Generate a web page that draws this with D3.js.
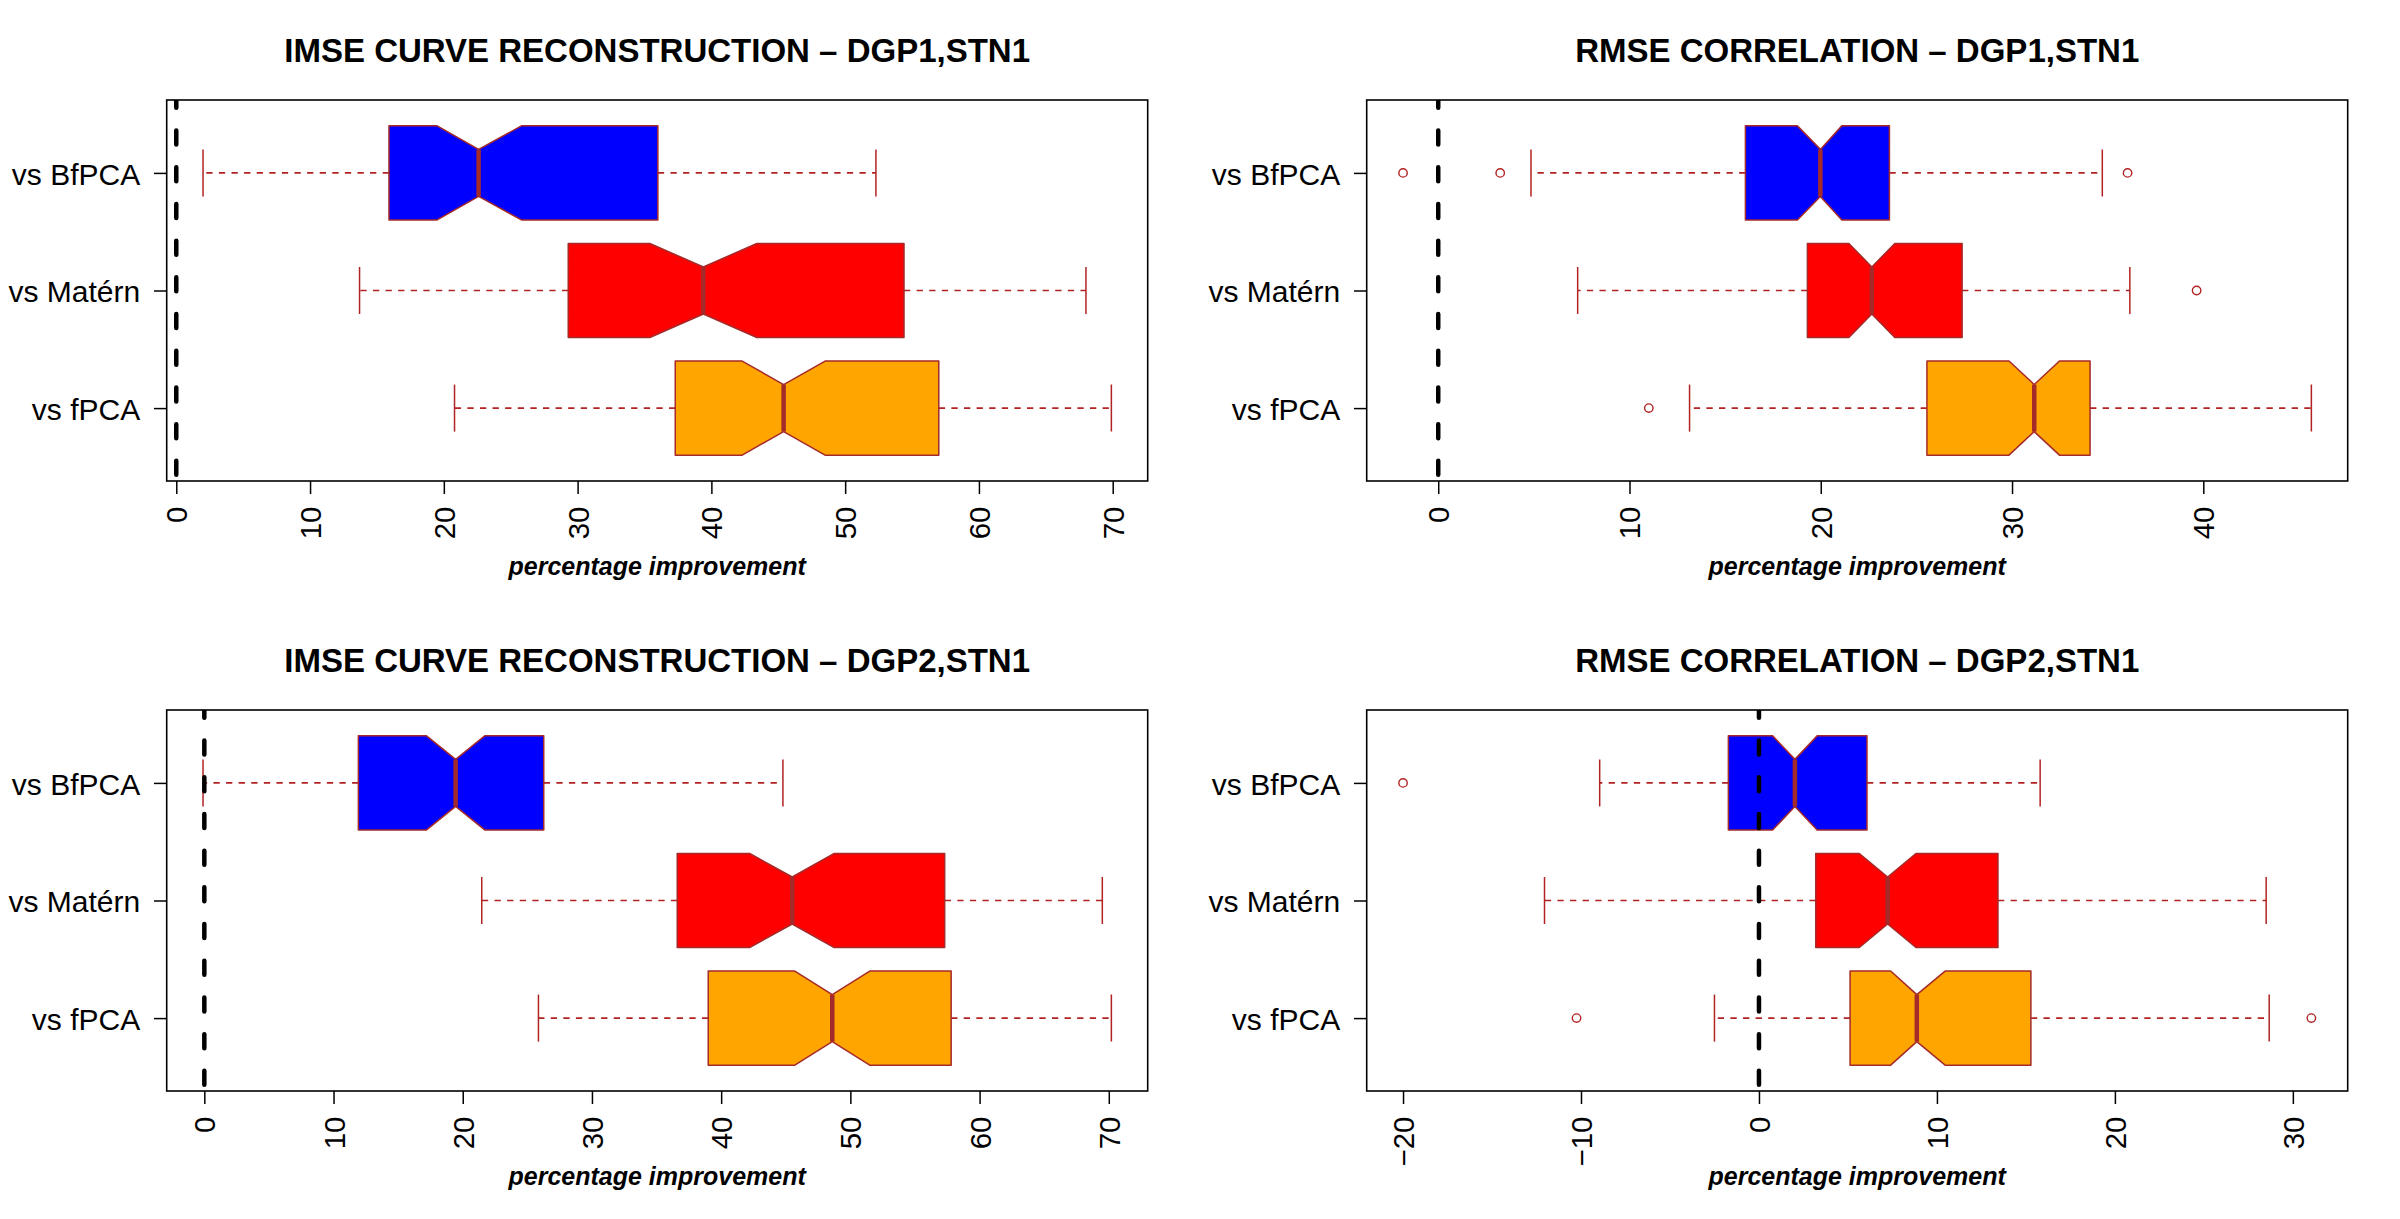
<!DOCTYPE html>
<html><head><meta charset="utf-8">
<script src="https://cdn.jsdelivr.net/npm/d3@7"></script>
<style>
body{margin:0;background:#fff}
svg{display:block}
text{font-family:"Liberation Sans",Arial,Helvetica,sans-serif;fill:#000}
</style>
</head><body>
<svg id="chart" width="2400" height="1219"></svg>
<script>
// ---------------- data ----------------
const groups = ["vs BfPCA", "vs Matérn", "vs fPCA"];
const fills = ["#0000FF", "#FF0000", "#FFA500"];
const titles = [
  "IMSE CURVE RECONSTRUCTION – DGP1,STN1",
  "RMSE CORRELATION – DGP1,STN1",
  "IMSE CURVE RECONSTRUCTION – DGP2,STN1",
  "RMSE CORRELATION – DGP2,STN1"
];
const xLabel = "percentage improvement";

// stats per group: [lower whisker, Q1, notch low, median, notch high, Q3, upper whisker]
const imseDgp1 = [
  [2.0, 15.9, 19.5, 22.6, 25.8, 36.0, 52.3],
  [13.7, 29.3, 35.4, 39.4, 43.4, 54.4, 68.0],
  [20.8, 37.3, 42.3, 45.4, 48.5, 57.0, 69.9]
];
const imseDgp1Out = [[], [], []];

const rmseDgp1 = [
  [4.85, 16.06, 18.78, 19.98, 21.1, 23.59, 34.72],
  [7.29, 19.3, 21.47, 22.67, 23.87, 27.39, 36.16],
  [13.14, 25.55, 29.84, 31.16, 32.48, 34.08, 45.65]
];
const rmseDgp1Out = [[-1.84, 3.24, 36.04], [39.65], [11.01]];

const imseDgp2 = [
  [-0.1, 11.92, 17.2, 19.45, 21.7, 26.27, 44.78],
  [21.47, 36.6, 42.2, 45.5, 48.75, 57.3, 69.5],
  [25.86, 39.0, 45.7, 48.6, 51.5, 57.8, 70.2]
];
const imseDgp2Out = [[], [], []];

const rmseDgp2 = [
  [-8.95, -1.72, 0.77, 2.02, 3.27, 6.07, 15.8],
  [-12.05, 3.19, 5.64, 7.23, 8.82, 13.43, 28.5],
  [-2.5, 5.12, 7.4, 8.87, 10.46, 15.28, 28.67]
];
const rmseDgp2Out = [[-20.0], [], [-10.25, 31.04]];

const ticksImse1 = [0, 10, 20, 30, 40, 50, 60, 70];
const ticksRmse1 = [0, 10, 20, 30, 40];
const ticksImse2 = [0, 10, 20, 30, 40, 50, 60, 70];
const ticksRmse2 = [-20, -10, 0, 10, 20, 30];

const panels = [
  {title: titles[0], stats: imseDgp1, out: imseDgp1Out, ticks: ticksImse1, col: 0, row: 0},
  {title: titles[1], stats: rmseDgp1, out: rmseDgp1Out, ticks: ticksRmse1, col: 1, row: 0},
  {title: titles[2], stats: imseDgp2, out: imseDgp2Out, ticks: ticksImse2, col: 0, row: 1},
  {title: titles[3], stats: rmseDgp2, out: rmseDgp2Out, ticks: ticksRmse2, col: 1, row: 1}
];

// ---------------- drawing ----------------
const svg = d3.select("#chart");
const BORDER = "#A52A2A";
const WHISK = "#B22222";
const pL = 166.7, pR = 1147.7, pT = 100, pB = 481;
const boxHalf = 0.4;

panels.forEach((p, pi) => {
  const g = svg.append("g").attr("transform", `translate(${p.col * 1200},${p.row * 610})`);

  const allVals = p.stats.flat().concat(p.out.flat());
  const lo = d3.min(allVals), hi = d3.max(allVals), r = hi - lo;
  const x = d3.scaleLinear().domain([lo - 0.04 * r, hi + 0.04 * r]).range([pL, pR]);
  const y = d3.scaleLinear().domain([0.38, 3.62]).range([pT, pB]);
  const pos = i => i + 1;

  const clipId = "clip" + pi;
  g.append("clipPath").attr("id", clipId).append("rect")
    .attr("x", pL).attr("y", pT).attr("width", pR - pL).attr("height", pB - pT);

  // title
  g.append("text").attr("x", (pL + pR) / 2).attr("y", 61.7)
    .attr("text-anchor", "middle").style("font-weight", "bold").style("font-size", "33px")
    .text(p.title);

  // x label
  g.append("text").attr("x", (pL + pR) / 2).attr("y", 575)
    .attr("text-anchor", "middle").style("font-weight", "bold").style("font-style", "italic")
    .style("font-size", "25px").text(xLabel);

  const plot = g.append("g").attr("clip-path", `url(#${clipId})`);

  p.stats.forEach((s, i) => {
    const [wl, q1, nl, med, nu, q3, wh] = s;
    const c = pos(i);
    // whiskers
    [[q1, wl], [q3, wh]].forEach(([a, b]) => {
      plot.append("line").attr("x1", x(a)).attr("x2", x(b)).attr("y1", y(c)).attr("y2", y(c))
        .attr("stroke", WHISK).attr("stroke-width", 1.6).attr("stroke-dasharray", "6.3,6.3");
      plot.append("line").attr("x1", x(b)).attr("x2", x(b))
        .attr("y1", y(c - boxHalf / 2)).attr("y2", y(c + boxHalf / 2))
        .attr("stroke", WHISK).attr("stroke-width", 1.5);
    });
    // notched box
    const pts = [
      [q1, c - boxHalf], [nl, c - boxHalf], [med, c - boxHalf / 2], [nu, c - boxHalf], [q3, c - boxHalf],
      [q3, c + boxHalf], [nu, c + boxHalf], [med, c + boxHalf / 2], [nl, c + boxHalf], [q1, c + boxHalf]
    ];
    plot.append("path")
      .attr("d", d3.line().x(d => x(d[0])).y(d => y(d[1]))(pts) + "Z")
      .attr("fill", fills[i]).attr("stroke", BORDER).attr("stroke-width", 1.5)
      .attr("stroke-linejoin", "round");
    // median
    plot.append("line").attr("x1", x(med)).attr("x2", x(med))
      .attr("y1", y(c - boxHalf / 2)).attr("y2", y(c + boxHalf / 2))
      .attr("stroke", BORDER).attr("stroke-width", 4.5);
    // outliers
    p.out[i].forEach(v => {
      plot.append("circle").attr("cx", x(v)).attr("cy", y(c)).attr("r", 4.2)
        .attr("fill", "none").attr("stroke", WHISK).attr("stroke-width", 1.4);
    });
  });

  // zero reference line
  plot.append("line").attr("x1", x(0)).attr("x2", x(0)).attr("y1", pT).attr("y2", pB)
    .attr("stroke", "#000").attr("stroke-width", 4.5).attr("stroke-linecap", "round")
    .attr("stroke-dasharray", "14,22.7").attr("stroke-dashoffset", 6.15);

  // plot frame
  g.append("rect").attr("x", pL).attr("y", pT).attr("width", pR - pL).attr("height", pB - pT)
    .attr("fill", "none").attr("stroke", "#000").attr("stroke-width", 1.6);

  // x axis
  const xa = g.append("g").attr("transform", `translate(0,${pB})`)
    .call(d3.axisBottom(x).tickValues(p.ticks).tickSize(13).tickFormat(d3.format("d")));
  xa.select(".domain").remove();
  xa.selectAll(".tick line").attr("stroke", "#000").attr("stroke-width", 1.5);
  xa.selectAll(".tick text")
    .attr("transform", "rotate(-90)")
    .attr("x", -25.5).attr("y", 0).attr("dy", null)
    .attr("text-anchor", "end").attr("dominant-baseline", "central")
    .style("font-size", "29.5px").style("font-family", "'Liberation Sans',Arial,sans-serif");

  // y axis
  const ya = g.append("g").attr("transform", `translate(${pL},0)`)
    .call(d3.axisLeft(d3.scaleLinear().domain(y.domain()).range(y.range()))
      .tickValues(groups.map((_, i) => pos(i))).tickSize(12.7).tickPadding(13.8)
      .tickFormat((d, i) => groups[i]));
  ya.select(".domain").remove();
  ya.selectAll(".tick line").attr("stroke", "#000").attr("stroke-width", 1.5);
  ya.selectAll(".tick text").attr("dy", "0.37em")
    .style("font-size", "30px").style("font-family", "'Liberation Sans',Arial,sans-serif");
});
</script>
</body></html>
